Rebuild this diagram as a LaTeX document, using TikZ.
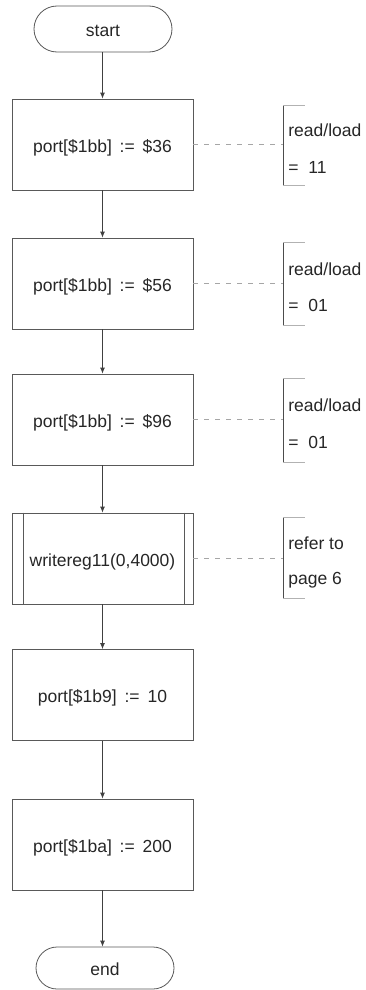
\documentclass[tikz,border=0pt]{standalone}
\usepackage{fontspec}
\setmainfont{Liberation Sans}
\usetikzlibrary{arrows.meta}
\newcommand{\asgn}{\hspace{0.45em}:=\hspace{0.45em}}
\begin{document}
\begin{tikzpicture}[x=1pt,y=-1pt,
  line width=0.8pt,
  txt/.style={font=\fontsize{17.5}{20}\selectfont, text=black!85},
  lowtxt/.style={text height=19pt, text depth=3.7pt},
  procbox/.style={txt, lowtxt, draw=black!65, minimum width=181pt, minimum height=91pt, inner sep=0pt},
  term/.style={txt, lowtxt, draw=black!65, minimum width=138pt, minimum height=46pt, rounded corners=23pt, inner sep=0pt},
  flow/.style={draw=black!75, -{Latex[length=6pt,width=5pt]}},
  leader/.style={draw=black!35, dash pattern=on 5pt off 6pt},
  brkline/.style={draw=black!70},
  brktick/.style={draw=black!30},
  note/.style={txt, anchor=west, inner sep=0pt}
]
\useasboundingbox (0,0) rectangle (365,990);

% main flow
\node[term] (start) at (103,29) {start};
\node[procbox] (b1) at (102.5,144.5) {port[\$1bb]\asgn\$36};
\node[procbox] (b2) at (102.5,283.5) {port[\$1bb]\asgn\$56};
\node[procbox] (b3) at (102.5,419.5) {port[\$1bb]\asgn\$96};
\node[procbox] (b4) at (102.5,558.5) {writereg11(0,4000)};
\draw[draw=black!65] ([xshift=12pt]b4.north west) -- ([xshift=12pt]b4.south west)
                     ([xshift=-9pt]b4.north east) -- ([xshift=-9pt]b4.south east);
\node[procbox] (b5) at (102.5,695) {port[\$1b9]\asgn10};
\node[procbox] (b6) at (102.5,844.5) {port[\$1ba]\asgn200};
\node[term, minimum height=42pt, rounded corners=21pt] (end) at (105,968) {end};

\draw[flow] (start.south -| b1.north) -- (b1.north);
\draw[flow] (b1) -- (b2);
\draw[flow] (b2) -- (b3);
\draw[flow] (b3) -- (b4);
\draw[flow] (b4) -- (b5);
\draw[flow] (b5) -- (b6);
\draw[flow] (b6.south) -- (b6.south |- end.north);

% side comments: bracket, leader line, two text lines
\foreach \b/\top/\bot/\ya/\yb/\la/\lb in {
  b1/105/185/130/167/read\slash load/= \ 11,
  b2/242/325/269/305/read\slash load/= \ 01,
  b3/378/462/405/442/read\slash load/= \ 01,
  b4/517/598/543/580/refer to/page 6}{
  \coordinate (\b-top) at (283,\top);
  \coordinate (\b-bot) at (283,\bot);
  \draw[brkline] (\b-top) -- (\b-bot);
  \draw[brktick] (\b-top) -- ++(22,0);
  \draw[brktick] (\b-bot) -- ++(22,0);
  \draw[leader] (\b.east) -- (\b.east -| \b-top);
  \node[note] (\b-la) at (288,\ya) {\la};
  \node[note] (\b-lb) at (288,\yb) {\lb};
}
\end{tikzpicture}
\end{document}
